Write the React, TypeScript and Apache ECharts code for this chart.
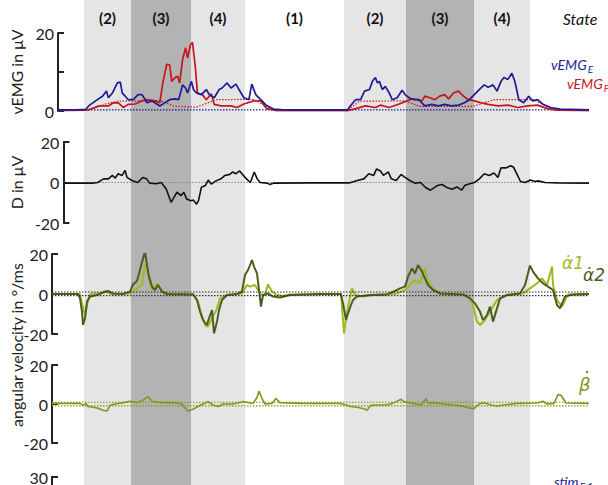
import React, { useEffect, useRef } from "react";
import * as echarts from "echarts";

// ---------- data ----------
const T_MAX = 537;

const stateNames = ["(2)", "(3)", "(4)", "(1)", "(2)", "(3)", "(4)"];
const stateStarts = [32, 79, 139, 193, 292, 354, 422];
const stateEnds = [79, 139, 193, 292, 354, 422, 478];
const stateShades = ["light", "dark", "light", "none", "light", "dark", "light"];

const vEmgE: number[][] = [[0,0.3],[18,0.3],[28,0.4],[31,1.3],[38,2.6],[45,3.8],[49,5.1],[51,3.4],[55,4.6],[60,7.2],[63,7.4],[65,4.6],[68,3.8],[71,2.9],[76,2.9],[81,4.2],[85,4.2],[90,2.1],[95,2.6],[98,2.1],[103,1.3],[108,2.1],[113,2.9],[118,3.1],[122,2.9],[126,6.7],[129,5.9],[131,4.6],[135,7.6],[137,5.5],[140,4.6],[145,4.2],[150,5.5],[153,4.2],[158,3.4],[163,5.5],[166,5.9],[171,7.2],[175,5.9],[180,6.9],[183,5.5],[188,3.4],[193,2.9],[196,6.9],[200,4.2],[205,2.9],[211,1.4],[218,0.5],[228,0.3],[293,0.3],[296,1.4],[301,2.9],[306,2.9],[310,5.1],[315,5.5],[318,7.6],[321,8.6],[323,7.2],[325,7.6],[328,5.5],[331,6.3],[335,4.6],[338,2.9],[343,3.4],[348,5.3],[351,4.2],[355,3.4],[360,2.9],[365,2.9],[368,2.1],[371,1.3],[378,1.7],[385,1.3],[391,1.7],[398,1.3],[405,1.5],[411,2.1],[416,2.9],[421,4.2],[426,5.5],[431,6.7],[435,6.1],[440,6.7],[444,5.1],[448,7.6],[451,8.6],[455,8.1],[459,9.7],[462,7.6],[466,2.9],[471,2.1],[476,3.8],[480,2.6],[485,2.9],[490,1.8],[498,0.9],[508,0.5],[537,0.3]];

const vEmgF: number[][] = [[0,0.1],[28,0.2],[31,0.3],[41,1.3],[51,1.3],[56,2.1],[61,2.1],[66,0.9],[71,1.7],[78,1.8],[85,2.6],[91,2.9],[98,2.6],[103,2.1],[106,7.2],[110,12.0],[113,11.8],[115,7.6],[118,8.5],[121,8.9],[123,7.2],[126,13.2],[129,16.2],[131,13.6],[134,17.0],[136,17.6],[139,11.0],[141,4.6],[146,4.2],[150,2.9],[155,4.4],[158,1.7],[165,1.3],[175,1.3],[181,0.9],[188,1.8],[198,2.6],[205,2.6],[211,0.6],[221,0.1],[293,0.1],[301,0.6],[311,1.3],[321,0.9],[326,1.5],[335,0.9],[345,1.8],[353,2.6],[358,3.1],[363,2.9],[368,2.6],[371,3.8],[376,3.4],[381,2.9],[386,3.8],[391,4.2],[395,3.1],[400,4.6],[405,5.1],[410,3.8],[415,2.9],[421,2.6],[428,2.1],[435,1.7],[445,1.3],[455,1.5],[465,0.9],[475,1.3],[485,1.5],[495,0.6],[505,0.2],[537,0.1]];

const vEmgFThreshold: number[][] = [[0,0.2],[33,0.3],[48,1.8],[60,2.5],[103,2.7],[118,1.2],[140,1.0],[160,2.9],[198,3.0],[216,0.3],[293,0.3],[305,2.5],[351,2.6],[366,1.2],[420,1.2],[441,2.9],[481,2.9],[501,0.3],[537,0.2]];
const vEmgEThreshold = 0.3;

const dSignal: number[][] = [[0,-0.3],[30,-0.3],[35,0],[41,1.8],[46,1.8],[50,3.5],[53,2.2],[56,4.3],[60,3.5],[63,6],[65,2.5],[70,1.0],[76,0],[81,2.5],[85,1.8],[88,-0.3],[95,-0.6],[100,0],[105,-3.2],[110,-9.8],[113,-7.3],[116,-4.8],[120,-6.5],[123,-4.8],[126,-8.2],[130,-9.0],[133,-8.7],[136,-10.7],[138,-9],[141,-2.3],[145,-1.5],[148,1.2],[151,-0.8],[156,0.8],[161,1.8],[165,3.5],[170,4],[173,5.2],[176,4.3],[180,5.7],[183,4],[187,1.8],[191,0],[195,5.2],[198,1.8],[201,0],[208,-0.3],[211,-1.0],[215,-0.3],[252,-0.2],[292,-0.2],[302,1.2],[307,1.8],[312,4.3],[317,3.5],[320,6.7],[324,5.7],[327,3.5],[332,5.2],[335,1.8],[340,1.0],[345,4],[349,2.5],[354,1.0],[359,-0.3],[365,0],[370,-2.5],[375,-3.8],[382,-1.5],[387,-1],[392,-2.5],[397,-3.3],[402,-2.2],[407,-3.8],[410,-1.5],[415,-0.6],[420,0],[425,1.8],[430,4.3],[435,3.5],[440,4.7],[444,2.5],[447,7.2],[452,7.2],[457,8.3],[460,7.5],[464,3.5],[467,0.5],[472,0],[477,1.2],[482,0.5],[485,0.8],[492,0],[505,-0.2],[537,-0.3]];
const dZero = 0;

const alpha1: number[][] = [[0,0],[28,0],[30,-4.7],[33,-10.5],[35,-5.5],[38,-0.2],[41,0.3],[48,0.3],[53,1.5],[60,-0.2],[78,0.3],[85,2.8],[90,4.5],[93,15],[95,12.8],[98,5.3],[101,2],[105,5.3],[108,2.8],[113,0],[141,0],[146,-3.8],[150,-11.3],[153,-15.5],[156,-16.3],[160,-12.2],[165,-7.2],[168,-2.2],[175,-0.5],[190,0.3],[195,4.5],[198,3.7],[203,4.5],[206,2],[210,-0.5],[213,-0.2],[216,4.8],[220,1.2],[225,-0.5],[231,-1],[238,-0.2],[289,0],[292,-19.7],[295,-8.8],[300,2.8],[303,-0.5],[311,-1.3],[321,-0.5],[345,0.3],[353,2],[358,4.5],[363,7],[368,5.3],[373,12.8],[376,6.2],[381,2.8],[388,0.3],[415,-0.5],[420,-3.8],[425,-13.8],[428,-15.5],[433,-13],[438,-8.8],[445,-3],[455,-0.5],[471,0.3],[478,2.8],[485,5.3],[490,7.8],[495,4.5],[500,13.7],[501,4.5],[505,-3],[510,-6.3],[516,-0.2],[537,0]];

const alpha2: number[][] = [[0,0],[26,0],[28,-2.2],[30,-8.8],[31,-15.5],[33,-12.2],[35,-3.8],[38,-1.3],[45,-0.5],[51,0.7],[56,1.5],[61,0.3],[71,0],[78,1.2],[81,4.8],[85,6.5],[88,12],[91,17.8],[93,21.2],[95,14.5],[97,8.7],[100,3.7],[103,2],[106,4.5],[110,1.2],[115,0],[141,-0.2],[145,-3],[148,-8.8],[151,-13],[155,-15.5],[157,-12.2],[160,-8],[162,-19.7],[165,-13.8],[167,-8],[170,-3],[175,-0.5],[185,0],[190,1.2],[193,9.5],[196,12],[200,17],[202,13.7],[205,10.3],[206,6.2],[209,-6.3],[211,-0.5],[216,0.3],[221,-1.3],[228,-1.8],[238,-0.5],[268,0],[289,0],[291,-4.7],[294,-13],[296,-9.7],[299,-5.5],[301,-3],[305,-1.3],[318,-0.5],[335,-0.2],[343,1.5],[348,2.8],[353,3.7],[356,8.7],[360,12.8],[363,10.3],[366,14.5],[370,11.2],[373,7.8],[376,4.5],[381,2],[388,0.3],[411,-0.2],[418,-2.2],[423,-4.7],[428,-8.8],[431,-13],[435,-10.5],[438,-6.3],[441,-13.8],[445,-7.2],[448,-2.2],[455,-0.5],[468,0.3],[473,4.5],[478,14.2],[481,11.2],[486,7.8],[491,5.3],[496,3.7],[501,2],[505,-5.5],[508,-7.2],[513,-1.3],[521,-0.2],[537,0]];
const alphaThresholds = [1.0, -0.8];

const beta: number[][] = [[0,0.3],[28,0.3],[31,-0.7],[34,0.3],[36,-1.3],[41,-1.7],[46,-2.2],[51,-3.2],[55,-3.6],[58,-0.7],[63,0],[71,0.7],[78,1.4],[85,0.7],[91,2],[96,3.8],[100,1.4],[105,1.0],[111,0.7],[121,0.8],[130,0],[133,-2.0],[136,-3.6],[141,-2.7],[146,-1.3],[151,0],[156,1.2],[161,-0.5],[166,-1.3],[171,0],[181,0],[191,1.2],[201,0.3],[205,3.3],[207,6.6],[210,2.8],[213,0],[220,0.3],[224,2.8],[228,0.7],[251,0.3],[289,0.3],[294,-0.5],[299,-1.3],[305,-1.7],[312,-2.4],[315,-3.2],[319,-0.7],[325,-0.5],[335,-0.5],[342,0.7],[349,2.4],[352,1.2],[362,0.3],[369,-0.5],[374,2.7],[376,0.5],[382,0.7],[392,0],[402,-0.5],[410,-1.0],[417,-2],[422,-2.4],[427,0],[432,0.7],[439,-0.5],[445,-1.0],[452,-0.5],[465,0.3],[485,0.5],[491,1.4],[495,0],[502,0.3],[506,4.8],[509,4.5],[514,0.5],[537,0.3]];
const betaThresholds = [0.9, -1.0];

const vEmgTicks = [0, 20, 10];
const signedTicks = [-20, 20, 20];

// ---------- styles ----------
const FONT = "Lato";
const AX = "#222";
const BLUE = "#1c1c96";
const RED = "#c4161c";
const LIGHT_GREEN = "#9cbc1e";
const DARK_GREEN = "#4b5e1c";
const OLIVE = "#7a9a18";
const SHADE: Record<string, string> = { light: "#e5e5e5", dark: "#b3b3b3", none: "rgba(0,0,0,0)" };

const GRID_LEFT = 52;
const GRID_RIGHT = 19;

export default function App() {
  const ref = useRef<HTMLDivElement>(null);

  useEffect(() => {
    if (!ref.current) return;
    const chart = echarts.init(ref.current, undefined, { renderer: "svg" });

    const grids = [
      { left: GRID_LEFT, right: GRID_RIGHT, top: 0, height: 485 },
      { left: GRID_LEFT, right: GRID_RIGHT, top: 33, height: 78 },
      { left: GRID_LEFT, right: GRID_RIGHT, top: 142, height: 81 },
      { left: GRID_LEFT, right: GRID_RIGHT, top: 254, height: 80 },
      { left: GRID_LEFT, right: GRID_RIGHT, top: 365, height: 78 },
    ];

    const xAxes = grids.map((_, i) => ({
      gridIndex: i, type: "value", min: 0, max: T_MAX, show: false,
    }));

    const yBase = (gridIndex: number, ticks: number[], name?: string) => ({
      gridIndex,
      type: "value",
      min: ticks[0],
      max: ticks[1],
      interval: ticks[2],
      name: name || "",
      nameLocation: "middle",
      nameRotate: 90,
      nameGap: 34,
      nameTextStyle: { color: AX, fontSize: 16, fontFamily: FONT },
      axisLine: { show: true, lineStyle: { color: AX, width: 2 } },
      axisTick: { show: true, inside: true, length: 6, lineStyle: { color: AX, width: 2 } },
      axisLabel: {
        color: AX, fontSize: 16, fontFamily: FONT, margin: 4,
        formatter: (v: number) => (gridIndex === 1 && v === 10 ? "" : String(v)),
      },
      splitLine: { show: false },
    });

    const yAxes = [
      { gridIndex: 0, type: "value", min: 0, max: 1, show: false },
      yBase(1, vEmgTicks, "vEMG in μV"),
      yBase(2, signedTicks, "D in μV"),
      yBase(3, signedTicks),
      yBase(4, signedTicks),
    ];

    const line = (idx: number, data: number[][], color: string, width: number, z = 5) => ({
      type: "line", xAxisIndex: idx, yAxisIndex: idx, data, symbol: "none",
      lineStyle: { color, width }, z, silent: true,
    });
    const dotted = (idx: number, data: number[][], color: string, z = 4) => ({
      type: "line", xAxisIndex: idx, yAxisIndex: idx, data, symbol: "none",
      lineStyle: { color, width: 1.2, type: [1.5, 1.5] }, z, silent: true,
    });
    const flat = (v: number) => [[0, v], [T_MAX, v]];

    const bandSeries = {
      type: "line",
      xAxisIndex: 0,
      yAxisIndex: 0,
      data: [[0, -5]],
      symbol: "none",
      lineStyle: { opacity: 0 },
      z: 0,
      silent: true,
      markArea: {
        silent: true,
        label: {
          show: true, position: "insideTop", distance: 10,
          color: "#111", fontSize: 15, fontWeight: "bold", fontFamily: FONT,
        },
        data: stateNames.map((n, i) => [
          { name: n, xAxis: stateStarts[i], itemStyle: { color: SHADE[stateShades[i]] } },
          { xAxis: stateEnds[i] },
        ]),
      },
    };

    const series = [
      bandSeries,
      dotted(1, vEmgFThreshold, RED),
      dotted(1, flat(vEmgEThreshold), BLUE),
      line(1, vEmgF, RED, 1.7),
      line(1, vEmgE, BLUE, 1.7, 6),
      dotted(2, flat(dZero), "#888"),
      line(2, dSignal, "#111", 1.6),
      ...alphaThresholds.map((v) => dotted(3, flat(v), "#333", 7)),
      line(3, alpha1, LIGHT_GREEN, 2),
      line(3, alpha2, DARK_GREEN, 2, 6),
      ...betaThresholds.map((v) => dotted(4, flat(v), OLIVE, 7)),
      line(4, beta, OLIVE, 1.6),
    ];

    const txt = (x: number, y: number, text: string, color: string, size: number, extra: any = {}) => ({
      type: "text", x, y, z: 100,
      style: { text, fill: color, fontSize: size, fontFamily: FONT, fontStyle: "italic", align: "left", verticalAlign: "middle", ...extra },
    });
    const subText = (x: number, y: number, main: string, sub: string, color: string) => ({
      type: "text", x, y, z: 100,
      style: {
        text: `{m|${main}}{s|${sub}}`,
        align: "left",
        verticalAlign: "middle",
        rich: {
          m: { fill: color, fontSize: 14, fontFamily: FONT, fontStyle: "italic", lineHeight: 20, verticalAlign: "middle" },
          s: { fill: color, fontSize: 10, fontFamily: FONT, fontStyle: "italic", lineHeight: 10, verticalAlign: "bottom", padding: [0, 0, 0, 1] },
        },
      },
    });

    const graphic = [
      txt(580, 18, "State", "#111", 16, { align: "center" }),
      subText(551, 64, "vEMG", "E", BLUE),
      subText(567, 83, "vEMG", "F", RED),
      txt(562, 263, "α̇1", LIGHT_GREEN, 17, { fontFamily: "DejaVu Sans" }),
      txt(583, 275, "α̇2", DARK_GREEN, 17, { fontFamily: "DejaVu Sans" }),
      txt(579, 384, "β", OLIVE, 18, { fontFamily: "DejaVu Sans" }),
      { type: "circle", z: 100, shape: { cx: 587, cy: 372, r: 1.3 }, style: { fill: OLIVE } },
      subText(554, 481, "stim", "E,1", BLUE),
      {
        type: "text", x: 16, y: 345, rotation: Math.PI / 2, z: 100,
        style: { text: "angular velocity in °/ms", fill: AX, fontSize: 16, fontFamily: FONT, align: "center", verticalAlign: "middle" },
      },
      {
        type: "text", x: 48, y: 477, z: 100,
        style: { text: "30", fill: AX, fontSize: 16, fontFamily: FONT, align: "right", verticalAlign: "middle" },
      },
      { type: "line", z: 100, shape: { x1: GRID_LEFT, y1: 477, x2: GRID_LEFT, y2: 486 }, style: { stroke: AX, lineWidth: 2 } },
      { type: "line", z: 100, shape: { x1: GRID_LEFT - 1, y1: 477, x2: GRID_LEFT + 6, y2: 477 }, style: { stroke: AX, lineWidth: 2 } },
    ];

    chart.setOption({
      animation: false,
      backgroundColor: "#fff",
      grid: grids,
      xAxis: xAxes,
      yAxis: yAxes,
      series,
      graphic,
    });

    return () => chart.dispose();
  }, []);

  return (
    <div
      ref={ref}
      style={{ position: "fixed", left: 0, top: 0, width: 608, height: 485 }}
    />
  );
}
